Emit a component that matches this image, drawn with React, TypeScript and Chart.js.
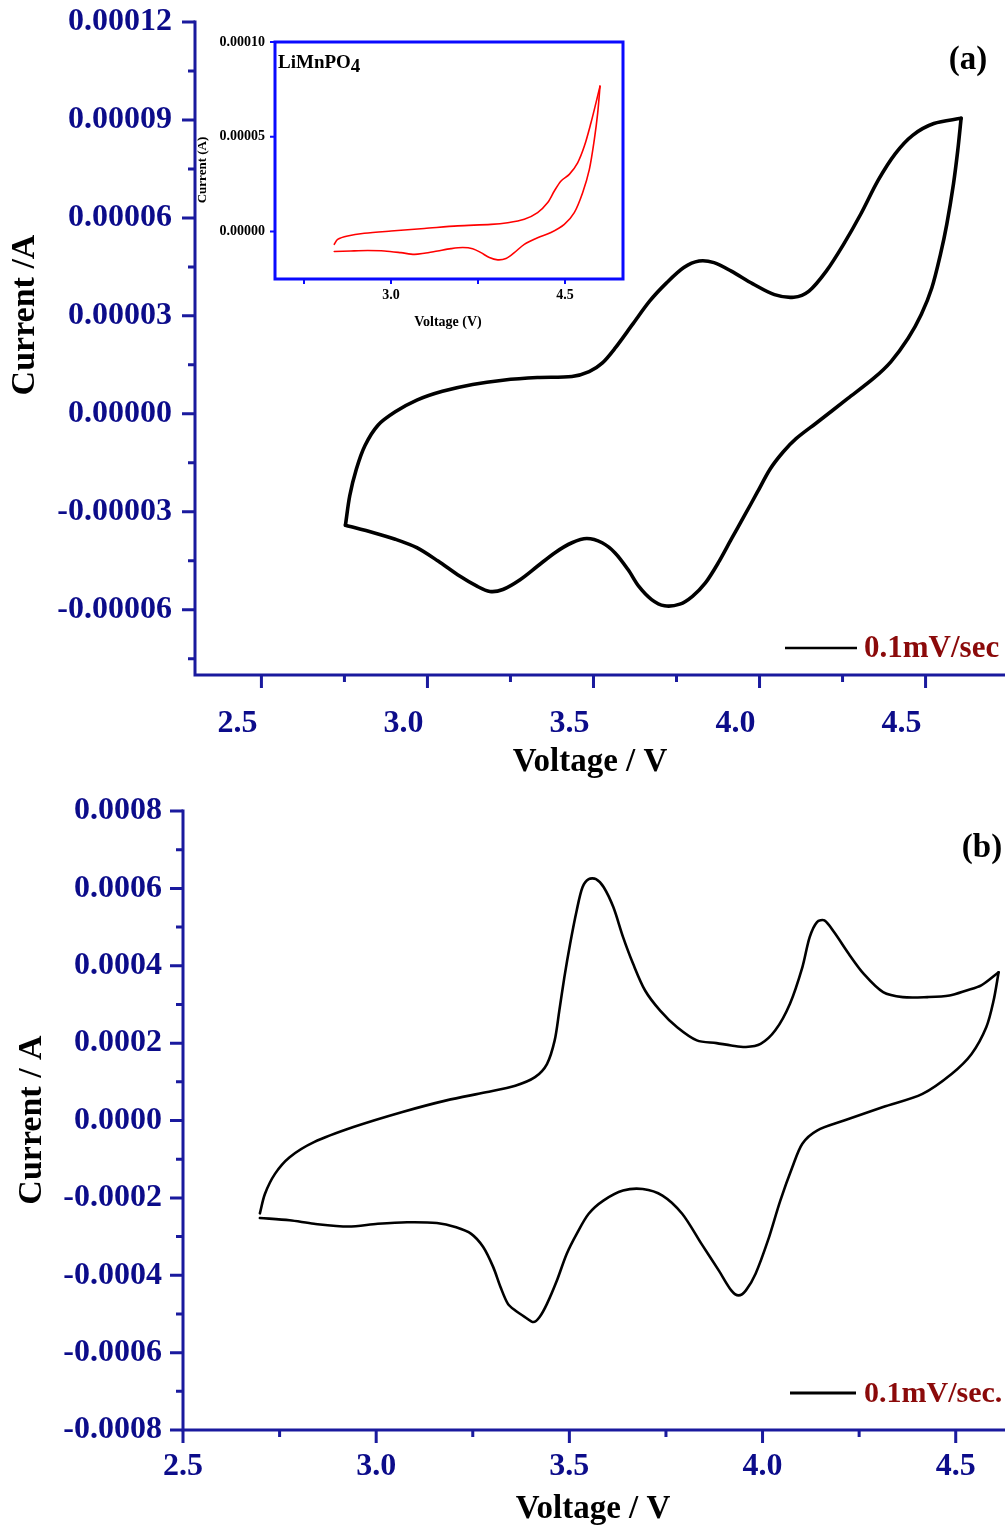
import React, { useEffect, useRef } from 'react';
import { Chart, registerables } from 'chart.js';

Chart.register(...registerables);

const FONT = '"Liberation Serif", "Times New Roman", serif';

// ---------- Panel (a): main CV curve ----------
const A_FWD_V = [2.753, 2.766, 2.786, 2.812, 2.851, 2.903, 2.968, 3.045, 3.136, 3.227, 3.331, 3.435, 3.487, 3.526, 3.565, 3.617, 3.669, 3.720, 3.772, 3.818, 3.863, 3.915, 3.980, 4.045, 4.103, 4.149, 4.201, 4.253, 4.305, 4.357, 4.409, 4.461, 4.525, 4.607];
const A_FWD_I = [-3.41e-5, -2.51e-5, -1.69e-5, -0.97e-5, -0.35e-5, 0.06e-5, 0.42e-5, 0.69e-5, 0.90e-5, 1.03e-5, 1.11e-5, 1.14e-5, 1.29e-5, 1.55e-5, 2.01e-5, 2.73e-5, 3.45e-5, 4.01e-5, 4.48e-5, 4.68e-5, 4.63e-5, 4.37e-5, 3.98e-5, 3.65e-5, 3.57e-5, 3.76e-5, 4.37e-5, 5.19e-5, 6.12e-5, 7.15e-5, 7.97e-5, 8.53e-5, 8.89e-5, 9.05e-5];
const A_REV_V = [4.607, 4.597, 4.584, 4.564, 4.545, 4.519, 4.487, 4.448, 4.396, 4.344, 4.266, 4.175, 4.110, 4.071, 4.032, 3.993, 3.954, 3.915, 3.876, 3.837, 3.798, 3.760, 3.714, 3.675, 3.636, 3.604, 3.565, 3.526, 3.480, 3.435, 3.383, 3.331, 3.279, 3.227, 3.188, 3.149, 3.097, 3.032, 2.968, 2.903, 2.838, 2.753];
const A_REV_I = [9.05e-5, 8.07e-5, 7.04e-5, 5.81e-5, 4.89e-5, 3.86e-5, 3.04e-5, 2.32e-5, 1.60e-5, 1.09e-5, 0.47e-5, -0.25e-5, -0.76e-5, -1.17e-5, -1.69e-5, -2.41e-5, -3.13e-5, -3.84e-5, -4.56e-5, -5.18e-5, -5.59e-5, -5.83e-5, -5.88e-5, -5.69e-5, -5.28e-5, -4.77e-5, -4.26e-5, -3.95e-5, -3.82e-5, -3.95e-5, -4.26e-5, -4.67e-5, -5.08e-5, -5.38e-5, -5.44e-5, -5.28e-5, -4.97e-5, -4.51e-5, -4.10e-5, -3.84e-5, -3.64e-5, -3.41e-5];

const A_X_TICKS = [2.5, 3.0, 3.5, 4.0, 4.5];
const A_X_LABELS = ['2.5', '3.0', '3.5', '4.0', '4.5'];
const A_X_MINOR = [2.75, 3.25, 3.75, 4.25, 4.75];
const A_Y_TICKS = [-0.00006, -0.00003, 0, 0.00003, 0.00006, 0.00009, 0.00012];
const A_Y_LABELS = ['-0.00006', '-0.00003', '0.00000', '0.00003', '0.00006', '0.00009', '0.00012'];
const A_Y_MINOR = [-0.000075, -0.000045, -0.000015, 0.000015, 0.000045, 0.000075, 0.000105];

// ---------- Inset (LiMnPO4) ----------
const IN_FWD_V = [2.511, 2.540, 2.626, 2.770, 3.000, 3.287, 3.575, 3.862, 4.006, 4.149, 4.264, 4.351, 4.408, 4.466, 4.537, 4.609, 4.667, 4.724, 4.767, 4.802];
const IN_FWD_I = [-0.67e-5, -0.41e-5, -0.23e-5, -0.09e-5, 0.03e-5, 0.16e-5, 0.30e-5, 0.38e-5, 0.47e-5, 0.65e-5, 1.00e-5, 1.53e-5, 2.14e-5, 2.67e-5, 3.02e-5, 3.63e-5, 4.51e-5, 5.74e-5, 6.79e-5, 7.67e-5];
const IN_REV_V = [4.802, 4.782, 4.753, 4.710, 4.652, 4.580, 4.494, 4.379, 4.264, 4.149, 4.063, 3.991, 3.920, 3.848, 3.776, 3.704, 3.618, 3.517, 3.402, 3.287, 3.201, 3.086, 2.943, 2.799, 2.655, 2.511];
const IN_REV_I = [7.67e-5, 6.26e-5, 4.86e-5, 3.28e-5, 2.05e-5, 1.00e-5, 0.38e-5, -0.05e-5, -0.32e-5, -0.67e-5, -1.11e-5, -1.42e-5, -1.49e-5, -1.37e-5, -1.11e-5, -0.90e-5, -0.84e-5, -0.90e-5, -1.02e-5, -1.14e-5, -1.20e-5, -1.11e-5, -1.02e-5, -1.00e-5, -1.02e-5, -1.05e-5];

const IN_X_TICKS = [3.0, 4.5];
const IN_X_LABELS = ['3.0', '4.5'];
const IN_X_MINOR = [2.25, 3.75];
const IN_Y_TICKS = [0, 0.00005, 0.0001];
const IN_Y_LABELS = ['0.00000', '0.00005', '0.00010'];

// ---------- Panel (b) ----------
const B_FWD_V = [2.699, 2.712, 2.738, 2.776, 2.839, 2.941, 3.068, 3.182, 3.284, 3.360, 3.411, 3.442, 3.462, 3.474, 3.487, 3.502, 3.519, 3.534, 3.550, 3.569, 3.589, 3.614, 3.639, 3.665, 3.696, 3.735, 3.779, 3.830, 3.881, 3.919, 3.957, 3.995, 4.033, 4.071, 4.103, 4.122, 4.141, 4.160, 4.185, 4.223, 4.262, 4.312, 4.363, 4.427, 4.484, 4.528, 4.566, 4.611];
const B_FWD_I = [-2.40e-4, -1.90e-4, -1.38e-4, -0.95e-4, -0.56e-4, -0.17e-4, 0.22e-4, 0.52e-4, 0.73e-4, 0.90e-4, 1.12e-4, 1.46e-4, 2.07e-4, 2.84e-4, 3.70e-4, 4.57e-4, 5.43e-4, 6.03e-4, 6.24e-4, 6.24e-4, 6.03e-4, 5.51e-4, 4.74e-4, 4.05e-4, 3.36e-4, 2.84e-4, 2.41e-4, 2.07e-4, 2.00e-4, 1.94e-4, 1.90e-4, 1.98e-4, 2.33e-4, 3.02e-4, 3.96e-4, 4.74e-4, 5.13e-4, 5.17e-4, 4.87e-4, 4.31e-4, 3.79e-4, 3.32e-4, 3.19e-4, 3.19e-4, 3.23e-4, 3.36e-4, 3.49e-4, 3.83e-4];
const B_REV_V = [4.611, 4.598, 4.579, 4.541, 4.490, 4.414, 4.312, 4.211, 4.141, 4.103, 4.077, 4.046, 4.014, 3.982, 3.957, 3.938, 3.919, 3.887, 3.842, 3.792, 3.741, 3.690, 3.639, 3.588, 3.550, 3.519, 3.493, 3.468, 3.442, 3.423, 3.407, 3.385, 3.360, 3.341, 3.322, 3.303, 3.277, 3.246, 3.207, 3.157, 3.080, 3.004, 2.928, 2.839, 2.776, 2.699];
const B_REV_I = [3.83e-4, 3.10e-4, 2.41e-4, 1.72e-4, 1.21e-4, 0.69e-4, 0.35e-4, 0.00, -0.26e-4, -0.60e-4, -1.21e-4, -2.07e-4, -3.10e-4, -3.96e-4, -4.39e-4, -4.52e-4, -4.39e-4, -3.88e-4, -3.19e-4, -2.41e-4, -1.94e-4, -1.77e-4, -1.81e-4, -2.07e-4, -2.41e-4, -2.93e-4, -3.45e-4, -4.13e-4, -4.74e-4, -5.08e-4, -5.21e-4, -5.08e-4, -4.91e-4, -4.74e-4, -4.31e-4, -3.79e-4, -3.27e-4, -2.93e-4, -2.76e-4, -2.65e-4, -2.63e-4, -2.67e-4, -2.74e-4, -2.67e-4, -2.58e-4, -2.52e-4];

const B_X_TICKS = [2.5, 3.0, 3.5, 4.0, 4.5];
const B_X_LABELS = ['2.5', '3.0', '3.5', '4.0', '4.5'];
const B_X_MINOR = [2.75, 3.25, 3.75, 4.25, 4.75];
const B_Y_TICKS = [-0.0008, -0.0006, -0.0004, -0.0002, 0, 0.0002, 0.0004, 0.0006, 0.0008];
const B_Y_LABELS = ['-0.0008', '-0.0006', '-0.0004', '-0.0002', '0.0000', '0.0002', '0.0004', '0.0006', '0.0008'];
const B_Y_MINOR = [-0.0007, -0.0005, -0.0003, -0.0001, 0.0001, 0.0003, 0.0005, 0.0007];

const NAVY = '#0c0c8a';
const AXIS = '#1a1a9e';
const DARKRED = '#8b0a0a';

type TextItem = {
  text: string; x: number; y: number; size: number; color: string;
  align?: CanvasTextAlign; baseline?: CanvasTextBaseline; rotate?: number;
  sub?: string; subDy?: number;
};

type Decor = {
  frame: boolean; axisColor: string; axisWidth: number; tickColor: string; tickWidth: number;
  xMajor: number[]; xMinor: number[]; yMajor: number[]; yMinor: number[];
  majorLen: number; minorLen: number;
  texts: TextItem[];
  legend?: { x1: number; x2: number; y: number; color: string; width: number };
};

function makeDecor(d: Decor) {
  return {
    id: 'decor',
    afterDraw(chart: any) {
      const ctx: CanvasRenderingContext2D = chart.ctx;
      const { left, right, top, bottom } = chart.chartArea;
      const xs = chart.scales.x;
      const ys = chart.scales.y;
      ctx.save();
      // ticks
      ctx.strokeStyle = d.tickColor;
      ctx.lineWidth = d.tickWidth;
      ctx.beginPath();
      const xt = (vals: number[], len: number) => vals.forEach((v) => {
        const p = xs.getPixelForValue(v);
        if (p < left - 1 || p > right + 1) return;
        ctx.moveTo(p, bottom); ctx.lineTo(p, bottom + len);
      });
      const yt = (vals: number[], len: number) => vals.forEach((v) => {
        const p = ys.getPixelForValue(v);
        if (p < top - 1 || p > bottom + 1) return;
        ctx.moveTo(left, p); ctx.lineTo(left - len, p);
      });
      xt(d.xMajor, d.majorLen); xt(d.xMinor, d.minorLen);
      yt(d.yMajor, d.majorLen); yt(d.yMinor, d.minorLen);
      ctx.stroke();
      // axis lines
      ctx.strokeStyle = d.axisColor;
      ctx.lineWidth = d.axisWidth;
      ctx.lineCap = 'square';
      ctx.beginPath();
      if (d.frame) {
        ctx.rect(left, top, right - left, bottom - top);
      } else {
        ctx.moveTo(left, top); ctx.lineTo(left, bottom); ctx.lineTo(right + 10, bottom);
      }
      ctx.stroke();
      // legend line
      if (d.legend) {
        ctx.strokeStyle = d.legend.color;
        ctx.lineWidth = d.legend.width;
        ctx.lineCap = 'butt';
        ctx.beginPath();
        ctx.moveTo(d.legend.x1, d.legend.y); ctx.lineTo(d.legend.x2, d.legend.y);
        ctx.stroke();
      }
      // texts
      d.texts.forEach((t) => {
        ctx.save();
        ctx.font = `bold ${t.size}px ${FONT}`;
        ctx.fillStyle = t.color;
        ctx.textAlign = t.align || 'center';
        ctx.textBaseline = t.baseline || 'middle';
        ctx.translate(t.x, t.y);
        if (t.rotate) ctx.rotate(t.rotate);
        ctx.fillText(t.text, 0, 0);
        if (t.sub) {
          const w = ctx.measureText(t.text).width;
          ctx.textAlign = 'left';
          ctx.fillText(t.sub, w, t.subDy || 0);
        }
        ctx.restore();
      });
      ctx.restore();
    },
  };
}

function toPts(xs: number[], ys: number[]) {
  return xs.map((x, i) => ({ x, y: ys[i] }));
}

function lineDs(xs: number[], ys: number[], color: string, width: number) {
  return {
    data: toPts(xs, ys), borderColor: color, borderWidth: width, pointRadius: 0,
    showLine: true, tension: 0.3, fill: false, borderCapStyle: 'round', borderJoinStyle: 'round',
  };
}

function makeConfig(opts: {
  datasets: any[]; xMin: number; xMax: number; yMin: number; yMax: number;
  xTicks: number[]; xLabels: string[]; yTicks: number[]; yLabels: string[];
  yWidth: number; xHeight: number; padding: any; tickFont: number; tickColor: string;
  xPad: number; yPad: number; xLabelOffset: number; decor: Decor;
}) {
  return {
    type: 'scatter',
    data: { datasets: opts.datasets },
    options: {
      animation: false, responsive: false, devicePixelRatio: 1,
      layout: { padding: opts.padding },
      plugins: { legend: { display: false }, tooltip: { enabled: false }, title: { display: false } },
      scales: {
        x: {
          type: 'linear', min: opts.xMin, max: opts.xMax,
          afterBuildTicks: (s: any) => { s.ticks = opts.xTicks.map((v) => ({ value: v })); },
          afterFit: (s: any) => {
            s.height = opts.xHeight;
            s.paddingLeft = 0; s.paddingRight = 0; s.paddingTop = 0; s.paddingBottom = 0;
          },
          grid: { display: true, drawOnChartArea: false, drawTicks: false, color: 'rgba(0,0,0,0)' },
          border: { display: false },
          ticks: {
            autoSkip: false, maxRotation: 0, padding: opts.xPad, labelOffset: opts.xLabelOffset,
            color: opts.tickColor, font: { family: FONT, size: opts.tickFont, weight: 'bold' },
            callback: (_v: any, i: number) => opts.xLabels[i],
          },
        },
        y: {
          type: 'linear', min: opts.yMin, max: opts.yMax,
          afterBuildTicks: (s: any) => { s.ticks = opts.yTicks.map((v) => ({ value: v })); },
          afterFit: (s: any) => {
            s.width = opts.yWidth;
            s.paddingLeft = 0; s.paddingRight = 0; s.paddingTop = 0; s.paddingBottom = 0;
          },
          grid: { display: true, drawOnChartArea: false, drawTicks: false, color: 'rgba(0,0,0,0)' },
          border: { display: false },
          ticks: {
            autoSkip: false, padding: opts.yPad,
            color: opts.tickColor, font: { family: FONT, size: opts.tickFont, weight: 'bold' },
            callback: (_v: any, i: number) => opts.yLabels[i],
          },
        },
      },
    },
    plugins: [makeDecor(opts.decor)],
  } as any;
}

const A_W = 1075, A_H = 790;
const IN_L = 190, IN_T = 30, IN_W = 450, IN_H = 305;
const B_T = 780, B_W = 1033, B_H = 746;

export default function App() {
  const refA = useRef<HTMLCanvasElement>(null);
  const refIn = useRef<HTMLCanvasElement>(null);
  const refB = useRef<HTMLCanvasElement>(null);

  useEffect(() => {
    const cfgA = makeConfig({
      datasets: [lineDs(A_FWD_V, A_FWD_I, '#000', 3.6), lineDs(A_REV_V, A_REV_I, '#000', 3.6)],
      xMin: 2.3, xMax: 4.95, yMin: -0.00008, yMax: 0.00012,
      xTicks: A_X_TICKS, xLabels: A_X_LABELS, yTicks: A_Y_TICKS, yLabels: A_Y_LABELS,
      yWidth: 195, xHeight: A_H - 675, padding: { top: 22, left: 0, right: 0, bottom: 0 },
      tickFont: 32, tickColor: NAVY, xPad: 30, yPad: 23, xLabelOffset: -24,
      decor: {
        frame: false, axisColor: AXIS, axisWidth: 3, tickColor: AXIS, tickWidth: 3,
        xMajor: A_X_TICKS, xMinor: A_X_MINOR, yMajor: A_Y_TICKS, yMinor: A_Y_MINOR,
        majorLen: 13, minorLen: 7,
        texts: [
          { text: '(a)', x: 968, y: 60, size: 33, color: '#000' },
          { text: 'Voltage / V', x: 590, y: 771, size: 33, color: '#000', baseline: 'alphabetic' },
          { text: 'Current /A', x: 25, y: 315, size: 34, color: '#000', rotate: -Math.PI / 2 },
          { text: '0.1mV/sec', x: 864, y: 657, size: 31, color: DARKRED, align: 'left', baseline: 'alphabetic' },
        ],
        legend: { x1: 785, x2: 857, y: 648, color: '#000', width: 2.5 },
      },
    });
    const cfgIn = makeConfig({
      datasets: [lineDs(IN_FWD_V, IN_FWD_I, '#ff0000', 1.6), lineDs(IN_REV_V, IN_REV_I, '#ff0000', 1.6)],
      xMin: 2.0, xMax: 5.0, yMin: -0.000025, yMax: 0.0001,
      xTicks: IN_X_TICKS, xLabels: IN_X_LABELS, yTicks: IN_Y_TICKS, yLabels: IN_Y_LABELS,
      yWidth: 275 - IN_L, xHeight: IN_H - (279 - IN_T),
      padding: { top: 42 - IN_T, left: 0, right: IN_W - (623 - IN_L), bottom: 0 },
      tickFont: 14, tickColor: '#000', xPad: 8, yPad: 10, xLabelOffset: 0,
      decor: {
        frame: true, axisColor: '#0a0aff', axisWidth: 3, tickColor: '#0a0aff', tickWidth: 2,
        xMajor: IN_X_TICKS, xMinor: IN_X_MINOR, yMajor: IN_Y_TICKS, yMinor: [],
        majorLen: 5, minorLen: 5,
        texts: [
          { text: 'Voltage (V)', x: 448 - IN_L, y: 322 - IN_T, size: 14, color: '#000' },
          { text: 'Current (A)', x: 203 - IN_L, y: 170 - IN_T, size: 13, color: '#000', rotate: -Math.PI / 2 },
          { text: 'LiMnPO', x: 278 - IN_L, y: 68 - IN_T, size: 19, color: '#000', align: 'left', baseline: 'alphabetic', sub: '4', subDy: 4 },
        ],
      },
    });
    const cfgB = makeConfig({
      datasets: [lineDs(B_FWD_V, B_FWD_I, '#000', 2.6), lineDs(B_REV_V, B_REV_I, '#000', 2.6)],
      xMin: 2.5, xMax: 4.7, yMin: -0.0008, yMax: 0.0008,
      xTicks: B_X_TICKS, xLabels: B_X_LABELS, yTicks: B_Y_TICKS, yLabels: B_Y_LABELS,
      yWidth: 183, xHeight: B_H - (1430 - B_T), padding: { top: 811 - B_T, left: 0, right: 0, bottom: 0 },
      tickFont: 32, tickColor: NAVY, xPad: 18, yPad: 21, xLabelOffset: 0,
      decor: {
        frame: false, axisColor: AXIS, axisWidth: 3, tickColor: AXIS, tickWidth: 3,
        xMajor: B_X_TICKS, xMinor: B_X_MINOR, yMajor: B_Y_TICKS, yMinor: B_Y_MINOR,
        majorLen: 13, minorLen: 7,
        texts: [
          { text: '(b)', x: 982, y: 848 - B_T, size: 33, color: '#000' },
          { text: 'Voltage / V', x: 593, y: 1518 - B_T, size: 33, color: '#000', baseline: 'alphabetic' },
          { text: 'Current / A', x: 32, y: 1120 - B_T, size: 34, color: '#000', rotate: -Math.PI / 2 },
          { text: '0.1mV/sec.', x: 864, y: 1402 - B_T, size: 30, color: DARKRED, align: 'left', baseline: 'alphabetic' },
        ],
        legend: { x1: 790, x2: 856, y: 1393 - B_T, color: '#000', width: 3 },
      },
    });
    const a = new Chart(refA.current as HTMLCanvasElement, cfgA);
    const inset = new Chart(refIn.current as HTMLCanvasElement, cfgIn);
    const b = new Chart(refB.current as HTMLCanvasElement, cfgB);
    return () => { a.destroy(); inset.destroy(); b.destroy(); };
  }, []);

  return (
    <div style={{ position: 'fixed', left: 0, top: 0, width: 1005, height: 1526, overflow: 'hidden', background: '#fff' }}>
      <canvas ref={refA} width={A_W} height={A_H} style={{ position: 'absolute', left: 0, top: 0, width: A_W, height: A_H }} />
      <canvas ref={refIn} width={IN_W} height={IN_H} style={{ position: 'absolute', left: IN_L, top: IN_T, width: IN_W, height: IN_H }} />
      <canvas ref={refB} width={B_W} height={B_H} style={{ position: 'absolute', left: 0, top: B_T, width: B_W, height: B_H }} />
    </div>
  );
}
